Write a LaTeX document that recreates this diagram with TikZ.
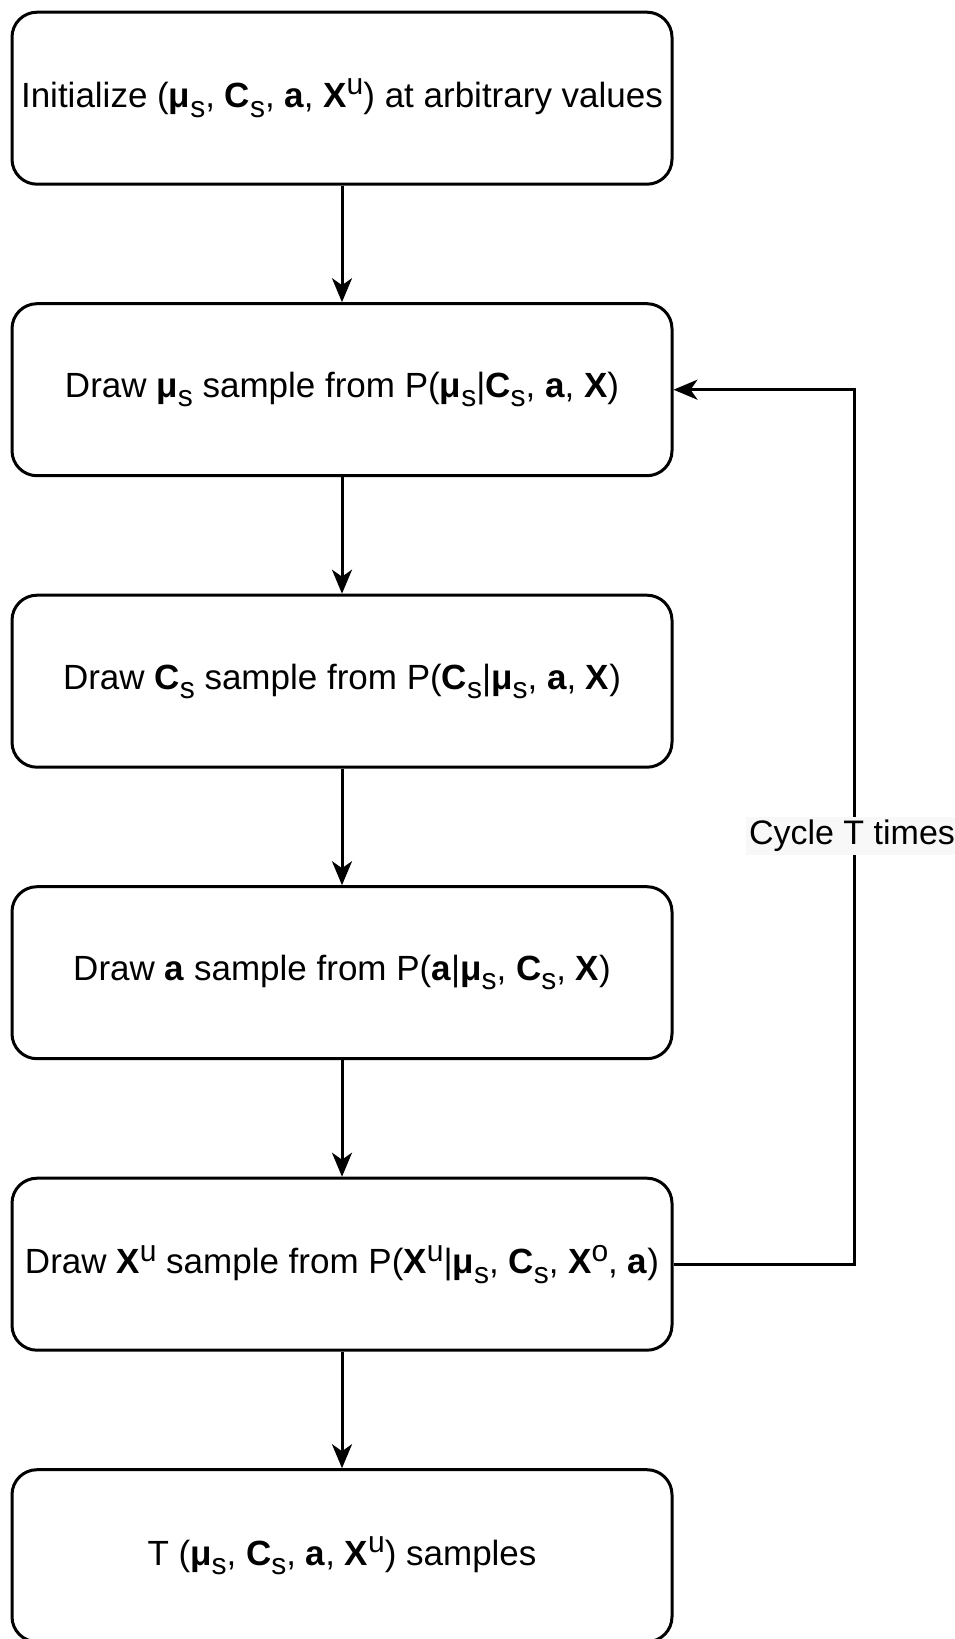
\documentclass[tikz,border=0pt]{standalone}
\usepackage{fontspec}
\setmainfont{Liberation Sans}
\usetikzlibrary{arrows.meta}
% lowered / raised indices in the step texts
\newcommand\lowidx[1]{\raisebox{-0.27em}{\fontsize{30}{30}\selectfont #1}}
\newcommand\upidx[1]{\raisebox{0.36em}{\fontsize{30}{30}\selectfont #1}}
\definecolor{labelbg}{RGB}{248,248,248}

\begin{document}
\begin{tikzpicture}[x=1pt,y=-1pt,
  stage/.style={draw, line width=3pt, rounded corners=25pt,
    minimum width=660pt, minimum height=172pt, inner sep=0pt,
    font=\fontsize{35}{40}\selectfont, align=center},
  flow/.style={line width=3pt, -{Stealth[length=24pt,width=20pt,inset=7pt]}}]
\useasboundingbox (0,0) rectangle (955,1639);

\node[stage] (init) at (342,98.2)
  {Initialize (\textbf{μ}\lowidx{s}, \textbf{C}\lowidx{s}, \textbf{a}, \textbf{X}\upidx{u}) at arbitrary values};
\node[stage] (mu) at (342,389.7)
  {Draw \textbf{μ}\lowidx{s} sample from P(\textbf{μ}\lowidx{s}|\textbf{C}\lowidx{s}, \textbf{a}, \textbf{X})};
\node[stage] (cs) at (342,681.2)
  {Draw \textbf{C}\lowidx{s} sample from P(\textbf{C}\lowidx{s}|\textbf{μ}\lowidx{s}, \textbf{a}, \textbf{X})};
\node[stage] (aa) at (342,972.7)
  {Draw \textbf{a} sample from P(\textbf{a}|\textbf{μ}\lowidx{s}, \textbf{C}\lowidx{s}, \textbf{X})};
\node[stage] (xu) at (342,1264.2)
  {Draw \textbf{X}\upidx{u} sample from P(\textbf{X}\upidx{u}|\textbf{μ}\lowidx{s}, \textbf{C}\lowidx{s}, \textbf{X}\upidx{o}, \textbf{a})};
\node[stage] (out) at (342,1555.7)
  {T (\textbf{μ}\lowidx{s}, \textbf{C}\lowidx{s}, \textbf{a}, \textbf{X}\upidx{u}) samples};

\draw[flow] (init) -- (mu);
\draw[flow] (mu) -- (cs);
\draw[flow] (cs) -- (aa);
\draw[flow] (aa) -- (xu);
\draw[flow] (xu) -- (out);

% feedback loop
\coordinate (corner) at (854,389.7);
\draw[flow] (xu.east) -| (corner) -- (mu.east);
\node[fill=labelbg, inner sep=3pt, font=\fontsize{34}{40}\selectfont] (cyc) at (852,836) {Cycle T times};
\end{tikzpicture}
\end{document}
